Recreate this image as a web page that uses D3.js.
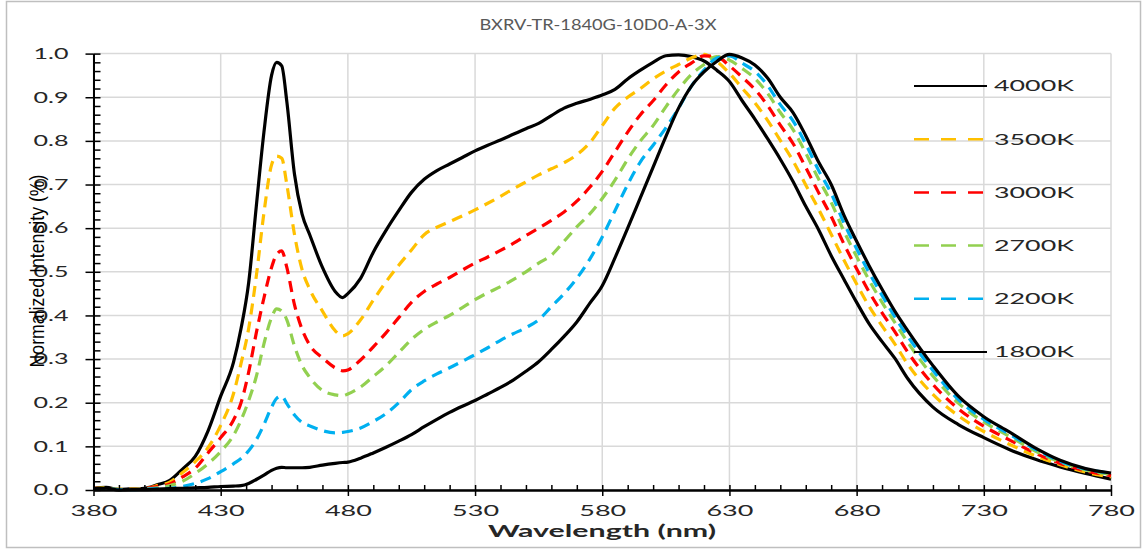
<!DOCTYPE html>
<html><head><meta charset="utf-8">
<script src="https://cdn.jsdelivr.net/npm/d3@7"></script>
<style>body{margin:0;background:#fff} svg{display:block}</style>
</head><body><svg id="c" width="1144" height="550"></svg>
<script>
const wavelengths = [380,385,390,395,400,405,410,415,420,425,430,
  435,438,441,444,447,450,452,454,456,459,462,465,
  470,475,478,480,
  485,490,495,500,505,510,515,520,525,530,535,540,545,550,555,560,565,570,575,580,
  585,590,595,600,605,610,615,620,625,630,635,640,645,650,655,660,665,670,675,680,
  685,690,695,700,
  710,720,730,740,750,760,770,780];

const s4000K = [0.004,0.006,0.001,0.003,0.004,0.012,0.022,0.048,0.077,0.135,0.215,
  0.292,0.37,0.475,0.65,0.82,0.95,0.98,0.972,0.89,0.724,0.632,0.585,
  0.51,0.455,0.441,0.45,
  0.485,0.545,0.595,0.64,0.682,0.712,0.732,0.747,0.762,0.777,0.79,0.802,0.815,0.828,0.84,0.858,0.875,0.886,0.895,0.905,
  0.918,0.942,0.962,0.98,0.995,0.997,0.993,0.983,0.962,0.936,0.892,0.85,0.805,0.758,0.707,0.65,0.597,0.537,0.483,0.43,
  0.38,0.34,0.302,0.256,
  0.19,0.15,0.12,0.093,0.071,0.053,0.038,0.025];

const s3500K = [0.003,0.005,0.002,0.002,0.003,0.01,0.018,0.04,0.065,0.097,0.148,
  0.22,0.29,0.37,0.49,0.635,0.745,0.765,0.76,0.70,0.586,0.505,0.46,
  0.41,0.365,0.353,0.358,
  0.39,0.435,0.477,0.515,0.55,0.585,0.602,0.615,0.628,0.642,0.657,0.673,0.69,0.706,0.722,0.736,0.75,0.768,0.795,0.835,
  0.875,0.9,0.92,0.942,0.96,0.975,0.99,0.998,0.982,0.955,0.921,0.887,0.847,0.801,0.754,0.699,0.644,0.586,0.527,0.472,
  0.42,0.376,0.335,0.289,
  0.219,0.17,0.134,0.105,0.079,0.058,0.041,0.03];

const s3000K = [0.004,0.003,0.001,0.002,0.003,0.008,0.014,0.03,0.05,0.085,0.12,
  0.16,0.2,0.27,0.36,0.44,0.51,0.54,0.548,0.51,0.425,0.368,0.332,
  0.303,0.28,0.273,0.275,
  0.298,0.328,0.36,0.395,0.43,0.455,0.472,0.487,0.504,0.52,0.534,0.549,0.565,0.583,0.6,0.618,0.637,0.662,0.693,0.73,
  0.775,0.82,0.86,0.892,0.928,0.958,0.978,0.995,0.993,0.972,0.946,0.918,0.881,0.836,0.794,0.739,0.682,0.627,0.564,0.507,
  0.453,0.406,0.363,0.317,
  0.242,0.186,0.146,0.115,0.085,0.061,0.044,0.033];

const s2700K = [0.003,0.004,0.001,0.002,0.002,0.005,0.01,0.02,0.038,0.06,0.088,
  0.125,0.16,0.205,0.26,0.335,0.395,0.415,0.41,0.39,0.33,0.285,0.258,
  0.228,0.218,0.216,0.22,
  0.236,0.26,0.285,0.315,0.345,0.368,0.385,0.4,0.418,0.436,0.452,0.466,0.482,0.5,0.52,0.538,0.57,0.603,0.632,0.668,
  0.71,0.758,0.8,0.835,0.878,0.918,0.952,0.975,0.993,0.985,0.966,0.943,0.909,0.865,0.826,0.772,0.713,0.659,0.593,0.535,
  0.48,0.43,0.384,0.339,
  0.261,0.199,0.156,0.123,0.09,0.064,0.046,0.036];

const s2200K = [0.002,0.003,0.001,0.001,0.002,0.003,0.004,0.008,0.015,0.026,0.042,
  0.06,0.072,0.09,0.115,0.15,0.19,0.21,0.215,0.198,0.172,0.155,0.147,
  0.136,0.131,0.132,0.134,
  0.142,0.157,0.175,0.2,0.23,0.25,0.266,0.28,0.295,0.31,0.326,0.343,0.358,0.372,0.39,0.42,0.45,0.485,0.528,0.58,
  0.64,0.7,0.752,0.79,0.83,0.875,0.925,0.962,0.99,0.995,0.978,0.959,0.927,0.883,0.846,0.793,0.733,0.68,0.612,0.553,
  0.497,0.446,0.397,0.353,
  0.274,0.207,0.162,0.128,0.094,0.066,0.048,0.038];

const s1800K = [0.003,0.004,0.0,0.001,0.001,0.002,0.003,0.004,0.005,0.006,0.008,
  0.009,0.01,0.015,0.024,0.034,0.045,0.05,0.052,0.051,0.051,0.051,0.052,
  0.057,0.061,0.063,0.064,
  0.073,0.085,0.098,0.112,0.127,0.145,0.162,0.178,0.192,0.205,0.22,0.235,0.252,0.272,0.294,0.322,0.352,0.385,0.427,0.468,
  0.532,0.6,0.67,0.74,0.81,0.875,0.925,0.958,0.982,0.998,0.99,0.974,0.944,0.9,0.865,0.812,0.752,0.70,0.63,0.57,
  0.513,0.46,0.41,0.366,
  0.285,0.215,0.168,0.133,0.097,0.068,0.049,0.039];

const seriesNames = ["4000K","3500K","3000K","2700K","2200K","1800K"];
const seriesValues = [s4000K, s3500K, s3000K, s2700K, s2200K, s1800K];
const seriesColors = ["#000000","#FFC000","#FF0000","#92D050","#00B0F0","#000000"];
const seriesDashed = [false,true,true,true,true,false];

const xTicks = [380,430,480,530,580,630,680,730,780];
const yTicks = [0,0.1,0.2,0.3,0.4,0.5,0.6,0.7,0.8,0.9,1.0];
const titleText = "BXRV-TR-1840G-10D0-A-3X";
const xLabel = "Wavelength (nm)";
const yLabel = "Normalized Intensity (%)";

const svg = d3.select("#c");
const FONT = "Lato, 'Open Sans', sans-serif";

svg.append("rect").attr("x",6.5).attr("y",1.5).attr("width",1134).attr("height",546)
  .attr("fill","#fff").attr("stroke","#bfbfbf").attr("stroke-width",1.5);

const x = d3.scaleLinear().domain([380,780]).range([93.5,1111]);
const y = d3.scaleLinear().domain([0,1]).range([490,53.6]);

// grid
const grid = svg.append("g").attr("stroke","#d9d9d9").attr("stroke-width",1.5);
grid.selectAll(".gx").data(xTicks).join("line")
  .attr("x1",d=>x(d)).attr("x2",d=>x(d)).attr("y1",y(0)).attr("y2",y(1));
grid.selectAll(".gy").data(yTicks).join("line")
  .attr("x1",x(380)).attr("x2",x(780)).attr("y1",d=>y(d)).attr("y2",d=>y(d));

// title
svg.append("text").attr("x",598).attr("y",30).attr("text-anchor","middle")
  .attr("font-family",FONT).attr("font-size",16).attr("fill","#595959")
  .attr("textLength",237).attr("lengthAdjust","spacingAndGlyphs").text(titleText);

// lines
const line = d3.line().x(d=>x(d[0])).y(d=>y(d[1])).curve(d3.curveMonotoneX);
seriesNames.forEach((name,i)=>{
  const pts = wavelengths.map((w,j)=>[w, seriesValues[i][j]]);
  svg.append("path").datum(pts).attr("d",line).attr("fill","none")
    .attr("stroke",seriesColors[i]).attr("stroke-width",3.2)
    .attr("stroke-linejoin","round")
    .attr("stroke-dasharray",seriesDashed[i] ? "11,7" : null);
});

// axes
const minorY = d3.range(0,1.0001,0.02);
const minorX = d3.range(380,781,10);
const gy = svg.append("g").attr("transform",`translate(${x(380)},0)`)
  .call(d3.axisLeft(y).tickValues(yTicks).tickFormat(d3.format(".1f")).tickSizeInner(8).tickSizeOuter(0).tickPadding(17));
const gy2 = svg.append("g").attr("transform",`translate(${x(380)},0)`)
  .call(d3.axisRight(y).tickValues(minorY).tickFormat("").tickSizeInner(7).tickSizeOuter(0));
const gx = svg.append("g").attr("transform",`translate(0,${y(0)})`)
  .call(d3.axisBottom(x).tickValues(xTicks).tickFormat(d3.format("d")).tickSizeInner(6).tickSizeOuter(0).tickPadding(9));
const gx2 = svg.append("g").attr("transform",`translate(0,${y(0)})`)
  .call(d3.axisTop(x).tickValues(minorX).tickFormat("").tickSizeInner(5).tickSizeOuter(0));
[gy,gy2,gx,gx2].forEach(g=>{
  g.selectAll("path.domain").attr("stroke","#000").attr("stroke-width",2);
  g.selectAll(".tick line").attr("stroke","#000").attr("stroke-width",1.5);
  g.selectAll("text").attr("font-family",FONT).attr("font-size",15).attr("fill","#262626");
});
gy.selectAll("text").attr("textLength",35).attr("lengthAdjust","spacingAndGlyphs");
gx.selectAll("text").attr("textLength",47).attr("lengthAdjust","spacingAndGlyphs");

// axis titles
svg.append("text").attr("x",602).attr("y",537).attr("text-anchor","middle")
  .attr("font-family",FONT).attr("font-weight",700).attr("font-size",17).attr("fill","#262626")
  .attr("textLength",228).attr("lengthAdjust","spacingAndGlyphs").text(xLabel);
svg.append("text").attr("transform","translate(44,271) rotate(-90)").attr("text-anchor","middle")
  .attr("font-family","'Liberation Sans Narrow','Liberation Sans',Arial,sans-serif").attr("font-size",21).attr("fill","#000")
  .attr("textLength",193).attr("lengthAdjust","spacingAndGlyphs").text(yLabel);

// legend
const lg = svg.append("g");
seriesNames.forEach((name,i)=>{
  const ly = 86 + i*53.2;
  lg.append("line").attr("x1",914).attr("x2",987).attr("y1",ly).attr("y2",ly)
    .attr("stroke",seriesColors[i]).attr("stroke-width",seriesDashed[i]?2.5:2)
    .attr("stroke-dasharray",seriesDashed[i] ? "15,12" : null);
  lg.append("text").attr("x",994).attr("y",ly).attr("dy","0.36em")
    .attr("font-family",FONT).attr("font-size",15).attr("fill","#262626")
    .attr("textLength",80).attr("lengthAdjust","spacingAndGlyphs").text(name);
});
</script></body></html>
